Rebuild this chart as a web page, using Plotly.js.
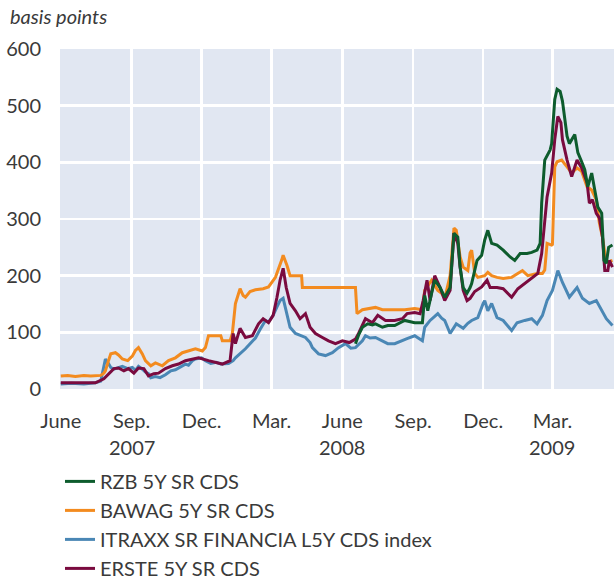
<!DOCTYPE html>
<html>
<head>
<meta charset="utf-8">
<script src="https://cdn.plot.ly/plotly-3.0.1.min.js"></script>
<style>html,body{margin:0;padding:0;background:#fff;}#chart{width:614px;height:581px;}</style>
</head>
<body>
<div id="chart"></div>
<script>
// ---- data (basis points) ----
const itraxxDates = ['2007-06-01','2007-06-15','2007-07-01','2007-07-07','2007-07-16','2007-07-23','2007-07-27','2007-07-29','2007-08-02','2007-08-05','2007-08-09','2007-08-15','2007-08-20','2007-08-27','2007-09-02','2007-09-06','2007-09-10','2007-09-15','2007-09-19','2007-09-23','2007-09-26','2007-10-02','2007-10-08','2007-10-15','2007-10-22','2007-10-28','2007-11-06','2007-11-10','2007-11-14','2007-11-19','2007-11-23','2007-12-01','2007-12-06','2007-12-13','2007-12-20','2007-12-26','2008-01-05','2008-01-11','2008-01-14','2008-01-20','2008-01-27','2008-02-02','2008-02-09','2008-02-15','2008-02-22','2008-02-26','2008-03-03','2008-03-08','2008-03-12','2008-03-16','2008-03-21','2008-03-25','2008-04-01','2008-04-07','2008-04-14','2008-04-20','2008-04-23','2008-05-01','2008-05-10','2008-05-19','2008-05-27','2008-06-05','2008-06-12','2008-06-18','2008-06-27','2008-07-01','2008-07-07','2008-07-14','2008-07-23','2008-07-30','2008-08-08','2008-08-18','2008-08-24','2008-09-03','2008-09-10','2008-09-13','2008-09-16','2008-09-23','2008-09-29','2008-10-03','2008-10-08','2008-10-12','2008-10-19','2008-10-27','2008-11-05','2008-11-11','2008-11-16','2008-11-24','2008-12-01','2008-12-03','2008-12-07','2008-12-12','2008-12-19','2008-12-27','2009-01-07','2009-01-14','2009-01-24','2009-02-02','2009-02-09','2009-02-16','2009-02-22','2009-03-01','2009-03-08','2009-03-14','2009-03-23','2009-04-02','2009-04-09','2009-04-18','2009-04-27','2009-05-04','2009-05-10','2009-05-18'];
const itraxxValues = [9,10,9,10,11,14,40,53,45,38,35,37,40,36,38,33,40,35,30,27,20,22,20,25,32,34,40,44,42,50,53,55,50,45,47,44,45,50,55,62,71,80,90,105,121,118,130,145,156,160,133,109,98,95,91,82,73,62,59,64,73,80,72,73,85,94,90,91,85,80,80,86,89,94,88,85,109,121,128,133,125,121,98,115,107,116,121,126,151,156,138,151,126,121,103,117,121,124,115,130,156,174,209,188,162,179,160,151,156,138,124,112];

const bawagDates = ['2007-06-01','2007-06-10','2007-06-20','2007-07-01','2007-07-10','2007-07-23','2007-07-27','2007-07-29','2007-08-02','2007-08-05','2007-08-11','2007-08-15','2007-08-20','2007-08-27','2007-09-02','2007-09-06','2007-09-10','2007-09-15','2007-09-19','2007-09-26','2007-10-02','2007-10-11','2007-10-19','2007-10-28','2007-11-06','2007-11-14','2007-11-23','2007-12-02','2007-12-06','2007-12-10','2007-12-15','2007-12-26','2007-12-28','2008-01-07','2008-01-10','2008-01-14','2008-01-20','2008-01-24','2008-01-27','2008-02-02','2008-02-09','2008-02-19','2008-02-26','2008-03-06','2008-03-14','2008-03-16','2008-03-21','2008-03-25','2008-04-09','2008-04-10','2008-06-18','2008-06-20','2008-06-27','2008-07-04','2008-07-14','2008-07-23','2008-08-01','2008-08-12','2008-08-21','2008-09-03','2008-09-13','2008-09-16','2008-09-25','2008-10-03','2008-10-08','2008-10-12','2008-10-19','2008-10-24','2008-10-27','2008-11-01','2008-11-05','2008-11-11','2008-11-14','2008-11-16','2008-11-20','2008-11-24','2008-12-03','2008-12-07','2008-12-12','2008-12-19','2008-12-27','2009-01-07','2009-01-15','2009-01-21','2009-01-28','2009-02-09','2009-02-16','2009-02-19','2009-02-22','2009-02-28','2009-03-01','2009-03-04','2009-03-07','2009-03-13','2009-03-20','2009-03-26','2009-04-02','2009-04-08','2009-04-15','2009-04-21','2009-04-27','2009-05-01','2009-05-05','2009-05-09','2009-05-12','2009-05-18'];
const bawagValues = [23,24,22,24,23,24,28,32,50,62,64,60,53,50,58,68,73,62,50,41,46,41,50,55,64,67,71,67,73,94,94,94,85,85,98,151,177,165,162,172,175,177,180,197,227,236,218,200,200,179,179,133,140,142,144,140,140,141,140,142,140,174,192,174,169,160,200,284,280,233,215,209,240,245,204,197,200,206,200,197,195,197,204,209,200,204,204,210,257,254,255,392,401,404,392,381,390,384,357,351,334,293,268,231,224,227];

const ersteDates = ['2007-06-01','2007-06-15','2007-07-01','2007-07-16','2007-07-27','2007-08-02','2007-08-09','2007-08-15','2007-08-22','2007-08-28','2007-09-04','2007-09-10','2007-09-17','2007-09-23','2007-09-30','2007-10-06','2007-10-15','2007-10-24','2007-11-01','2007-11-10','2007-11-19','2007-11-27','2007-12-10','2007-12-28','2008-01-07','2008-01-11','2008-01-14','2008-01-20','2008-01-27','2008-02-05','2008-02-13','2008-02-19','2008-02-26','2008-03-03','2008-03-08','2008-03-12','2008-03-16','2008-03-20','2008-03-25','2008-04-01','2008-04-07','2008-04-14','2008-04-20','2008-04-27','2008-05-06','2008-05-14','2008-05-23','2008-06-01','2008-06-10','2008-06-18','2008-06-22','2008-07-01','2008-07-10','2008-07-17','2008-07-27','2008-08-08','2008-08-18','2008-08-24','2008-09-03','2008-09-10','2008-09-14','2008-09-19','2008-09-23','2008-09-29','2008-10-06','2008-10-12','2008-10-19','2008-10-24','2008-10-29','2008-11-01','2008-11-05','2008-11-10','2008-11-14','2008-11-20','2008-11-29','2008-12-06','2008-12-10','2008-12-19','2008-12-27','2009-01-07','2009-01-15','2009-01-24','2009-02-02','2009-02-10','2009-02-15','2009-02-19','2009-02-22','2009-02-28','2009-03-04','2009-03-08','2009-03-12','2009-03-14','2009-03-20','2009-03-26','2009-04-02','2009-04-08','2009-04-15','2009-04-18','2009-04-22','2009-04-27','2009-05-01','2009-05-05','2009-05-08','2009-05-12','2009-05-14','2009-05-18'];
const ersteValues = [11,11,11,11,18,27,36,37,32,36,28,37,36,23,27,28,36,41,44,50,53,55,50,44,50,98,80,107,91,94,115,124,117,130,162,192,213,179,151,138,124,133,109,98,91,85,80,85,82,88,98,124,117,130,121,121,124,133,135,133,156,192,156,200,179,156,174,275,257,215,174,156,160,172,180,192,179,179,177,162,177,186,195,204,239,298,339,381,440,481,470,440,404,375,404,390,364,328,334,310,302,268,209,209,227,215];

const rzbDates = ['2008-06-18','2008-06-22','2008-06-27','2008-07-04','2008-07-10','2008-07-14','2008-07-23','2008-07-30','2008-08-08','2008-08-18','2008-08-21','2008-09-03','2008-09-13','2008-09-16','2008-09-20','2008-09-25','2008-09-29','2008-10-06','2008-10-12','2008-10-19','2008-10-24','2008-10-29','2008-11-01','2008-11-05','2008-11-10','2008-11-14','2008-11-16','2008-11-23','2008-11-29','2008-12-03','2008-12-07','2008-12-12','2008-12-19','2008-12-27','2009-01-05','2009-01-11','2009-01-18','2009-01-27','2009-02-02','2009-02-09','2009-02-13','2009-02-15','2009-02-19','2009-02-26','2009-02-28','2009-03-04','2009-03-07','2009-03-11','2009-03-14','2009-03-20','2009-03-23','2009-03-30','2009-04-03','2009-04-08','2009-04-12','2009-04-16','2009-04-21','2009-04-25','2009-04-29','2009-05-04','2009-05-07','2009-05-10','2009-05-13','2009-05-18'];
const rzbValues = [80,95,109,115,113,115,109,112,112,118,121,117,117,165,138,169,192,179,162,179,275,268,215,179,169,179,186,227,236,263,280,257,254,245,233,227,239,239,241,245,257,328,404,422,433,511,529,525,508,446,433,449,417,401,387,357,381,351,321,310,227,222,250,254];

const seriesNames = ['RZB 5Y SR CDS','BAWAG 5Y SR CDS','ITRAXX SR FINANCIA L5Y CDS index','ERSTE 5Y SR CDS'];
const tickDates = ['2007-06-01','2007-09-01','2007-12-01','2008-03-01','2008-06-01','2008-09-01','2008-12-01','2009-03-01'];
const tickLabels = ['June','Sep.','Dec.','Mar.','June','Sep.','Dec.','Mar.'];
const yearLabels = ['2007','2008','2009'];
const yearDates = ['2007-09-01','2008-06-01','2009-03-01'];
const markerDates = ['2007-12-01','2008-12-01'];

const FONT = 'Lato, "Open Sans", sans-serif';
const TXT = '#3a3a3a';

const traces = [
  {x: itraxxDates, y: itraxxValues, name: seriesNames[2], legendrank: 3, line:{color:'#4a87b5', width:3}},
  {x: bawagDates, y: bawagValues, name: seriesNames[1], legendrank: 2, line:{color:'#f38b1f', width:3}},
  {x: ersteDates, y: ersteValues, name: seriesNames[3], legendrank: 4, line:{color:'#7a0b3f', width:3}},
  {x: rzbDates, y: rzbValues, name: seriesNames[0], legendrank: 1, line:{color:'#0d5c2d', width:3}}
].map(t => Object.assign({type:'scatter', mode:'lines', hoverinfo:'skip'}, t));

const annotations = yearLabels.map((t,i) => ({
  text: t, x: yearDates[i], xref:'x', y: -0.172, yref:'paper',
  xanchor:'center', yanchor:'middle', showarrow:false,
  font:{family:FONT, size:20, color:TXT}
}));
annotations.push({
  text:'<i>basis points</i>', xref:'paper', x:-0.094, xanchor:'left',
  yref:'paper', y:1.097, yanchor:'middle', showarrow:false,
  font:{family:FONT, size:20, color:TXT}
});

const shapes = markerDates.map(d => ({
  type:'line', xref:'x', x0:d, x1:d, yref:'paper', y0:0, y1:1,
  line:{color:'#4a7fb0', width:1.5}, layer:'between'
}));

const layout = {
  width:614, height:581,
  margin:{l:60, r:0, t:49, b:192, pad:0, autoexpand:false},
  paper_bgcolor:'#ffffff', plot_bgcolor:'#e1e7f2',
  font:{family:FONT, size:20, color:TXT},
  showlegend:true,
  xaxis:{
    type:'date', range:['2007-05-31','2009-05-20'],
    tickmode:'array', tickvals:tickDates, ticktext:tickLabels,
    showgrid:true, gridcolor:'#ffffff', gridwidth:2.5,
    ticks:'outside', ticklen:14, tickcolor:'rgba(0,0,0,0)',
    showline:false, zeroline:false, automargin:false,
    tickfont:{family:FONT, size:20, color:TXT}
  },
  yaxis:{
    range:[0,600], dtick:100, tick0:0,
    showgrid:true, gridcolor:'#ffffff', gridwidth:2.5,
    ticks:'outside', ticklen:14, tickcolor:'rgba(0,0,0,0)',
    showline:false, zeroline:false, automargin:false,
    tickfont:{family:FONT, size:20, color:TXT}
  },
  legend:{
    x:0, xanchor:'left', yref:'container', y:0.205, yanchor:'top',
    orientation:'v', font:{family:FONT, size:20, color:TXT},
    bgcolor:'rgba(0,0,0,0)', tracegroupgap:0, itemwidth:30
  },
  annotations: annotations,
  shapes: shapes
};

Plotly.newPlot('chart', traces, layout, {staticPlot:true, displayModeBar:false});
</script>
</body>
</html>
